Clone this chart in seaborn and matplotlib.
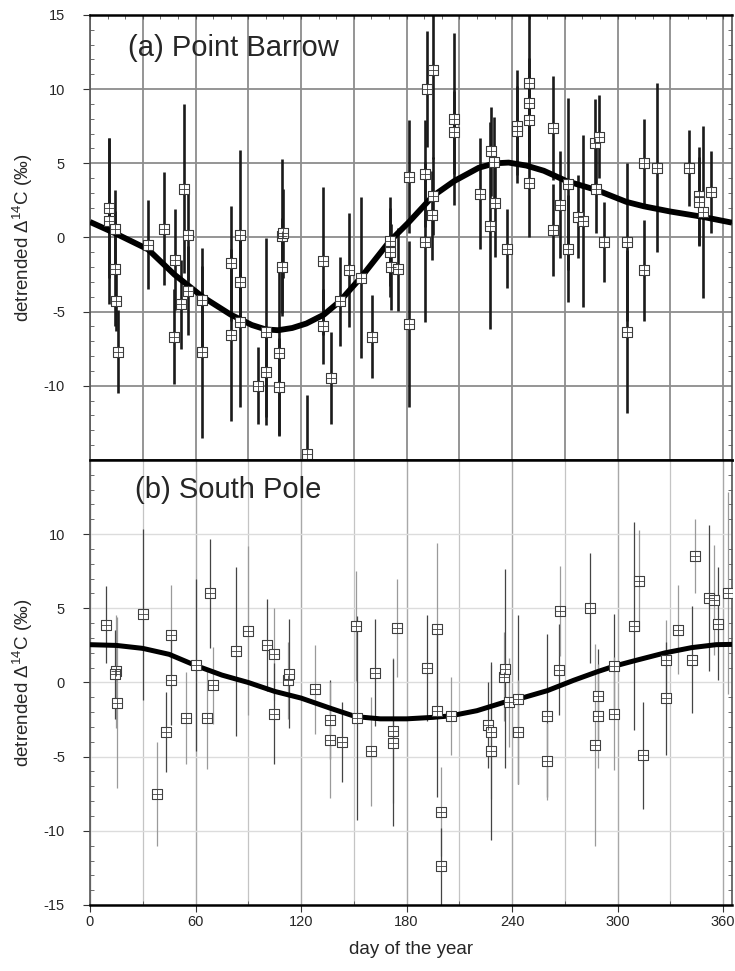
import numpy as np
import pandas as pd
import matplotlib
matplotlib.use('Agg')
import matplotlib.pyplot as plt
import seaborn as sns
from matplotlib.ticker import MultipleLocator

sns.set_style('white')
plt.rcParams['font.family'] = ['Liberation Sans', 'DejaVu Sans']
plt.rcParams['mathtext.default'] = 'regular'
plt.rcParams['axes.unicode_minus'] = False

# ---------------- Point Barrow (panel a) ----------------
brw_day = [11.0, 11.0, 14.2, 14.0, 15.0, 16.1, 33.2, 42.2, 48.4, 47.5, 51.8, 53.5, 56.0, 55.5,
           63.6, 63.6, 80.1, 80.1, 85.4, 85.4, 85.4, 95.3, 100.3, 100.3, 107.3, 107.3, 109.2,
           109.8, 109.2, 123.4, 132.4, 132.4, 137.1, 142.4, 147.5, 154.2, 160.4, 170.3, 170.3,
           171.3, 175.3, 181.3, 181.3, 190.2, 190.2, 191.4, 195.0, 195.0, 194.4, 207.0, 207.0,
           221.6, 227.4, 228.2, 229.7, 230.3, 237.0, 242.5, 242.5, 249.5, 249.5, 249.5, 249.5,
           263.5, 263.5, 267.4, 271.5, 271.5, 277.2, 280.4, 287.3, 289.2, 287.6, 292.4, 305.3,
           305.3, 315.2, 315.2, 322.2, 340.4, 346.1, 346.1, 348.4, 352.8]
brw_val = [2.0, 1.1, 0.6, -2.1, -4.3, -7.7, -0.5, 0.6, -1.5, -6.7, -4.5, 3.3, 0.15, -3.6,
           -4.2, -7.7, -1.75, -6.6, 0.2, -3.0, -5.7, -10.0, -6.35, -9.1, -7.8, -10.1, 0.1,
           0.3, -2.0, -14.6, -1.6, -6.0, -9.5, -4.3, -2.2, -2.7, -6.7, -0.25, -1.0,
           -2.0, -2.15, 4.1, -5.85, 4.3, -0.3, 10.0, 11.3, 2.8, 1.5, 8.0, 7.1,
           2.95, 0.8, 5.8, 5.1, 2.3, -0.76, 7.5, 7.2, 10.4, 9.1, 7.9, 3.7,
           7.4, 0.5, 2.2, 3.6, -0.76, 1.4, 1.1, 6.35, 6.8, 3.3, -0.3, -0.3,
           -6.35, 5.0, -2.2, 4.7, 4.7, 2.8, 2.4, 1.7, 3.05]
brw_err = [4.7, 5.6, 2.6, 3.9, 2.0, 2.8, 3.0, 3.8, 3.4, 3.2, 3.0, 5.7, 3.0, 3.0,
           3.5, 5.8, 3.9, 5.8, 5.7, 3.0, 5.7, 2.6, 6.3, 3.0, 5.5, 3.3, 5.2,
           3.0, 3.3, 4.0, 5.0, 2.5, 3.1, 3.0, 3.85, 5.4, 2.8, 3.0, 3.0,
           2.9, 2.8, 3.8, 5.6, 3.6, 5.4, 3.9, 6.0, 2.6, 3.0, 5.8, 2.8,
           3.75, 7.0, 3.0, 3.0, 3.6, 2.65, 3.8, 3.0, 5.0, 3.0, 3.0, 3.7,
           3.5, 3.1, 3.6, 5.8, 3.6, 2.8, 5.8, 3.0, 2.8, 3.0, 2.7, 5.3,
           5.5, 3.0, 3.4, 5.7, 2.55, 3.3, 3.0, 5.8, 2.75]
brw_fit_day = [0, 14, 33, 48, 64, 80, 92, 100, 107, 115, 123, 133, 142, 154, 170, 181, 195,
               207, 221, 230, 238, 248, 258, 271, 288, 305, 315, 330, 348, 365]
brw_fit_val = [1.05, 0.3, -0.8, -2.5, -4.0, -5.2, -5.9, -6.2, -6.25, -6.1, -5.8, -5.2, -4.3,
               -2.7, -0.3, 1.0, 2.8, 3.8, 4.7, 5.0, 5.05, 4.85, 4.5, 3.8, 3.2, 2.4, 2.1,
               1.75, 1.4, 1.0]

# ---------------- South Pole (panel b) ----------------
spo_day = [9.1, 14.7, 14.2, 15.1, 30.2, 38.2, 43.1, 45.9, 45.9, 54.8, 60.1, 66.7, 68.0, 70.0,
           82.8, 90.0, 100.8, 104.5, 104.5, 112.5, 113.4, 128.2, 136.7, 136.7, 143.4, 151.3,
           152.0, 160.0, 162.3, 172.4, 172.4, 174.3, 191.4, 197.1, 197.1, 199.4, 199.4, 205.4,
           226.3, 228.2, 228.2, 235.4, 236.0, 238.5, 243.6, 243.6, 260.1, 260.1, 266.4, 267.1,
           284.4, 287.3, 289.1, 289.1, 298.0, 298.0, 309.1, 312.3, 314.2, 327.2, 327.2, 334.5,
           342.2, 344.2, 352.2, 354.5, 357.1, 363.0]
spo_val = [3.9, 0.75, 0.55, -1.35, 4.6, -7.5, -3.35, 3.2, 0.15, -2.4, 1.15, -2.4, 6.0, -0.2,
           2.1, 3.5, 2.5, 1.9, -2.1, 0.15, 0.6, -0.47, -2.5, -3.9, -4.0, 3.8,
           -2.4, -4.65, 0.67, -3.25, -4.05, 3.7, 0.98, 3.6, -1.9, -8.7, -12.4, -2.25,
           -2.85, -3.35, -4.65, 0.38, 0.94, -1.34, -1.14, -3.35, -2.25, -5.3, 0.87, 4.83,
           5.0, -4.2, -0.94, -2.25, 1.1, -2.1, 3.8, 6.87, -4.9, 1.54, -1.07, 3.56,
           1.54, 8.5, 5.7, 5.57, 3.96, 6.04]
spo_err = [2.6, 3.8, 3.0, 5.75, 5.75, 3.5, 2.7, 3.4, 3.0, 3.1, 5.8, 3.4, 3.7, 2.6,
           5.7, 5.7, 3.1, 3.1, 3.4, 2.6, 3.7, 3.0, 2.65, 3.9, 2.7, 3.7,
           6.9, 3.65, 3.6, 4.9, 5.65, 3.3, 3.6, 5.8, 5.8, 3.0, 2.6, 2.65,
           2.9, 4.5, 6.0, 3.0, 6.7, 3.0, 5.7, 3.5, 5.5, 2.6, 3.05, 3.05,
           3.7, 6.8, 3.2, 3.5, 3.5, 3.8, 7.0, 3.4, 3.6, 2.7, 3.8, 3.0,
           3.6, 2.5, 4.9, 3.7, 3.8, 6.8]
spo_fit_day = [0, 15, 30, 45, 60, 75, 90, 105, 120, 137, 151, 165, 180, 195, 205, 220, 235,
               244, 260, 275, 289, 298, 309, 327, 342, 356, 365]
spo_fit_val = [2.55, 2.5, 2.3, 1.9, 1.15, 0.5, 0.0, -0.6, -1.05, -1.75, -2.3, -2.45, -2.45,
               -2.35, -2.25, -1.9, -1.35, -1.1, -0.55, 0.15, 0.75, 1.1, 1.45, 2.0, 2.35,
               2.55, 2.57]

x_ticks = [0, 60, 120, 180, 240, 300, 360]
ylabel = 'detrended Δ$^{14}$C (‰)'

W, H = 735, 971
fig = plt.figure(figsize=(W / 100, H / 100), dpi=100)
left, right = 90 / W, 732 / W
ax1 = fig.add_axes([left, 1 - 460 / H, right - left, 445 / H])
ax2 = fig.add_axes([left, 1 - 905 / H, right - left, 445 / H])


def style_axes(ax, top_panel):
    ax.set_xlim(0, 365)
    ax.set_ylim(-15, 15)
    ax.yaxis.set_major_locator(MultipleLocator(5))
    ax.yaxis.set_minor_locator(MultipleLocator(1))
    if top_panel:
        ax.xaxis.set_major_locator(MultipleLocator(30))
        ax.xaxis.set_minor_locator(MultipleLocator(10))
        ax.grid(True, which='major', axis='both', color='#8c8c8c', lw=1.3)
        ax.set_yticks([-10, -5, 0, 5, 10, 15])
        ax.tick_params(axis='x', which='both', bottom=False, top=True, labelbottom=False,
                       direction='in', length=3, color='#555')
    else:
        ax.set_xticks(x_ticks)
        ax.xaxis.set_minor_locator(MultipleLocator(30))
        ax.grid(True, which='major', axis='x', color='#a8a8a8', lw=1.0)
        ax.grid(True, which='minor', axis='x', color='#c4c4c4', lw=0.9)
        ax.grid(True, which='major', axis='y', color='#dcdcdc', lw=1.0)
        ax.set_yticks([-15, -10, -5, 0, 5, 10])
        ax.tick_params(axis='x', which='major', bottom=True, direction='out', length=5,
                       color='#333', labelsize=10.5, pad=2)
        ax.tick_params(axis='x', which='minor', bottom=True, direction='in', length=3,
                       color='#555')
    ax.set_axisbelow(True)
    ax.tick_params(axis='y', which='major', left=True, direction='out', length=5,
                   color='#333', labelsize=10.5, pad=13)
    ax.tick_params(axis='y', which='minor', left=True, right=True, direction='in',
                   length=3, color='#555')
    for s in ['left', 'right']:
        ax.spines[s].set_color('#555')
        ax.spines[s].set_linewidth(1.2)
    ax.spines['top'].set_color('black')
    ax.spines['bottom'].set_color('black')
    ax.spines['top'].set_linewidth(1.8)
    ax.spines['bottom'].set_linewidth(1.8)
    ax.set_ylabel(ylabel, fontsize=13.5, labelpad=6)


def draw_panel(ax, day, val, err, fday, fval, bar_lw, bar_colors, fit_lw, mk_edge):
    lo = np.array(val) - np.array(err)
    hi = np.array(val) + np.array(err)
    ax.vlines(day, lo, hi, colors=bar_colors, lw=bar_lw, zorder=2)
    sns.lineplot(x=fday, y=fval, color='black', lw=fit_lw, ax=ax, zorder=3,
                 sort=True, solid_capstyle='butt')
    sns.scatterplot(x=day, y=val, marker='s', s=55, color='white', edgecolor=mk_edge,
                    linewidth=0.8, ax=ax, zorder=4)
    sns.scatterplot(x=day, y=val, marker='+', s=55, color=mk_edge, linewidth=0.6,
                    ax=ax, zorder=5)


draw_panel(ax1, brw_day, brw_val, brw_err, brw_fit_day, brw_fit_val, 1.9,
           '#1a1a1a', 4.2, '#3a3a3a')
spo_colors = ['#444' if i % 2 == 0 else '#9a9a9a' for i in range(len(spo_day))]
draw_panel(ax2, spo_day, spo_val, spo_err, spo_fit_day, spo_fit_val, 0.9,
           spo_colors, 3.6, '#404040')

style_axes(ax1, True)
style_axes(ax2, False)

ax1.text(21.5, 12.75, '(a) Point Barrow', fontsize=21, va='center', ha='left')
ax2.text(25.5, 13.0, '(b) South Pole', fontsize=21, va='center', ha='left')
ax2.set_xlabel('day of the year', fontsize=13.5, labelpad=9)

fig.savefig('out.png', dpi=100)
